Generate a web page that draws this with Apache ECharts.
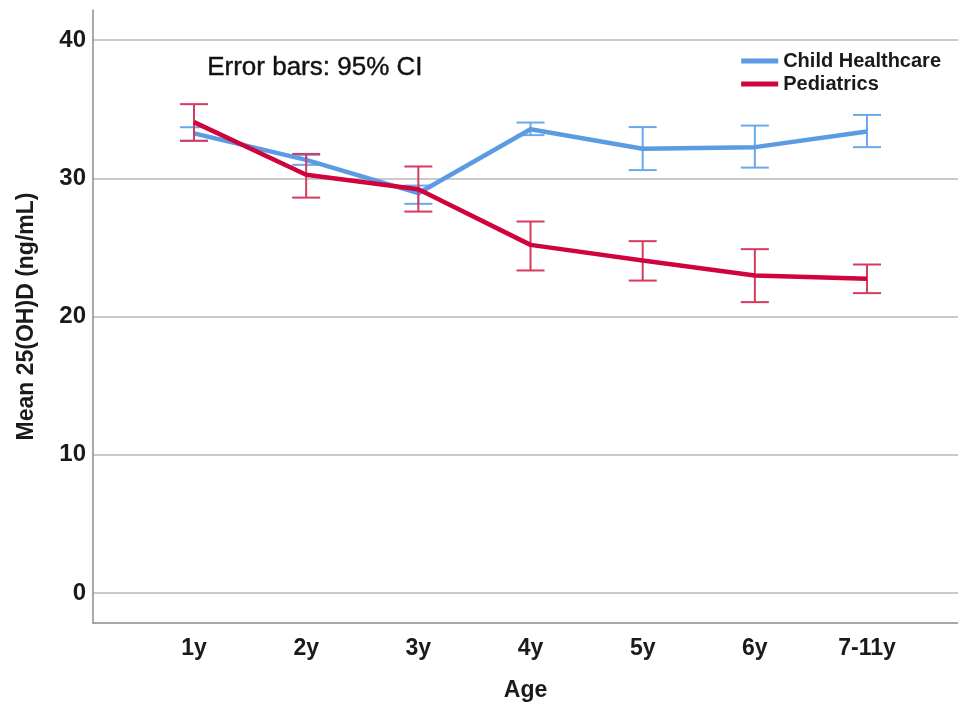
<!DOCTYPE html>
<html>
<head>
<meta charset="utf-8">
<script src="https://cdn.jsdelivr.net/npm/echarts@6/dist/echarts.min.js"></script>
<style>
html,body{margin:0;padding:0;background:#fff;}
#chart{width:958px;height:711px;}
</style>
</head>
<body>
<div id="chart"></div>
<script>
const categories = ['1y', '2y', '3y', '4y', '5y', '6y', '7-11y'];
const childMean = [33.25, 31.33, 28.92, 33.55, 32.13, 32.25, 33.38];
const childLow  = [32.71, 30.97, 28.15, 33.12, 30.59, 30.77, 32.25];
const childHigh = [33.69, 31.69, 29.47, 34.03, 33.70, 33.81, 34.58];
const pedMean = [34.06, 30.25, 29.21, 25.18, 24.05, 22.96, 22.73];
const pedLow  = [32.71, 28.60, 27.59, 23.33, 22.60, 21.04, 21.69];
const pedHigh = [35.36, 31.76, 30.85, 26.87, 25.45, 24.87, 23.76];
const yTicks = [0, 10, 20, 30, 40];
const xTicks = categories.map((c, i) => i);

const BLUE = '#5b9be3';
const BLUE_EB = '#6aa8ec';
const RED = '#d0043c';
const RED_EB = '#d63a5e';
const FONT = "'Liberation Sans', Arial, sans-serif";

function errData(low, high) {
  return categories.map((c, i) => [i, low[i], high[i]]);
}
function errRender(color) {
  return function (params, api) {
    const x = api.value(0);
    const lo = api.coord([x, api.value(1)]);
    const hi = api.coord([x, api.value(2)]);
    const hw = 14;
    const style = { stroke: color, lineWidth: 2, fill: null };
    return {
      type: 'group',
      children: [
        { type: 'line', shape: { x1: lo[0], y1: lo[1], x2: hi[0], y2: hi[1] }, style: style },
        { type: 'line', shape: { x1: lo[0] - hw, y1: lo[1], x2: lo[0] + hw, y2: lo[1] }, style: style },
        { type: 'line', shape: { x1: hi[0] - hw, y1: hi[1], x2: hi[0] + hw, y2: hi[1] }, style: style }
      ]
    };
  };
}

const chart = echarts.init(document.getElementById('chart'));
chart.setOption({
  animation: false,
  backgroundColor: '#fff',
  textStyle: { fontFamily: FONT },
  grid: { left: 93, right: 0, top: 10, bottom: 88, containLabel: false },
  legend: {
    data: ['Child Healthcare', 'Pediatrics'],
    orient: 'vertical',
    right: 12,
    top: 45,
    icon: 'rect',
    itemWidth: 37,
    itemHeight: 5,
    itemGap: 1,
    textStyle: { fontFamily: FONT, fontSize: 20, fontWeight: 'bold', color: '#1a1a1a', lineHeight: 22 }
  },
  graphic: [{
    type: 'text',
    left: 207,
    top: 55,
    style: { text: 'Error bars: 95% CI', fontFamily: FONT, fontSize: 26, fill: '#111', stroke: '#111', lineWidth: 0.4 }
  }],
  xAxis: {
    type: 'value',
    min: -0.9004,
    max: 6.811,
    name: 'Age',
    nameLocation: 'middle',
    nameGap: 56,
    nameTextStyle: { fontFamily: FONT, fontSize: 23, fontWeight: 'bold', color: '#1a1a1a' },
    axisLine: { show: true, onZero: false, lineStyle: { color: '#8c8c8c', width: 1.5 } },
    axisTick: { show: false, customValues: xTicks },
    splitLine: { show: false },
    axisLabel: {
      customValues: xTicks,
      formatter: v => categories[Math.round(v)] || '',
      fontFamily: FONT, fontSize: 23, fontWeight: 'bold', color: '#1a1a1a', margin: 14
    }
  },
  yAxis: {
    type: 'value',
    min: -2.17,
    max: 42.17,
    name: 'Mean 25(OH)D (ng/mL)',
    nameLocation: 'middle',
    nameGap: 55,
    nameTextStyle: { fontFamily: FONT, fontSize: 23, fontWeight: 'bold', color: '#1a1a1a' },
    axisLine: { show: true, onZero: false, lineStyle: { color: '#8c8c8c', width: 1.5 } },
    axisTick: { show: false, customValues: yTicks },
    splitLine: { show: true, lineStyle: { color: '#c9c9c9', width: 2 } },
    axisLabel: {
      customValues: yTicks,
      fontFamily: FONT, fontSize: 24, fontWeight: 'bold', color: '#1a1a1a', margin: 7
    }
  },
  series: [
    {
      name: 'Child Healthcare EB',
      type: 'custom',
      renderItem: errRender(BLUE_EB),
      data: errData(childLow, childHigh),
      z: 2
    },
    {
      name: 'Child Healthcare',
      type: 'line',
      data: categories.map((c, i) => [i, childMean[i]]),
      symbol: 'none',
      lineStyle: { color: BLUE, width: 4.5 },
      itemStyle: { color: BLUE },
      z: 3
    },
    {
      name: 'Pediatrics EB',
      type: 'custom',
      renderItem: errRender(RED_EB),
      data: errData(pedLow, pedHigh),
      z: 4
    },
    {
      name: 'Pediatrics',
      type: 'line',
      data: categories.map((c, i) => [i, pedMean[i]]),
      symbol: 'none',
      lineStyle: { color: RED, width: 4.5 },
      itemStyle: { color: RED },
      z: 5
    }
  ]
});
</script>
</body>
</html>
